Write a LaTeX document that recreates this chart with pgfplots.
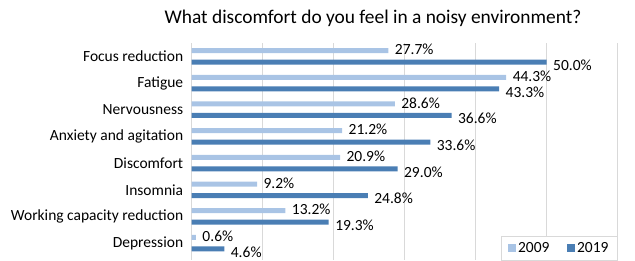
\documentclass[border=0pt]{standalone}
\usepackage{pgfplots}
\pgfplotsset{compat=1.18}
\usepackage{fontspec}
\setmainfont{Carlito}
\definecolor{c09}{RGB}{169,196,229}
\definecolor{c19}{RGB}{74,126,180}
\definecolor{gridc}{RGB}{217,217,217}
\begin{document}
\begin{tikzpicture}[x=1pt,y=1pt]
\path[use as bounding box] (-191.7pt,0pt) rectangle (443.3pt,260pt);
\begin{axis}[
  at={(0pt,0pt)}, anchor=south west,
  scale only axis, width=426pt, height=217pt,
  xmin=0, xmax=60, ymin=-0.63, ymax=7.5,
  xbar, bar width=5pt,
  axis line style={draw=none},
  xtick={0,10,...,60}, xticklabels={},
  xmajorgrids, grid style={gridc, line width=0.8pt},
  major tick length=0pt,
  ytick={0,...,7},
  yticklabels={Depression, Working capacity reduction, Insomnia, Discomfort, Anxiety and agitation, Nervousness, Fatigue, Focus reduction},
  yticklabel style={font=\fontsize{15.5}{18}\selectfont, xshift=-5pt},
  /pgf/number format/assume math mode=true,
  nodes near coords={\pgfmathprintnumber[fixed,fixed zerofill,precision=1]{\pgfplotspointmeta}\%},
  nodes near coords style={font=\fontsize{15.5}{17}\selectfont, anchor=west, xshift=3pt, inner ysep=0pt},
  legend style={at={(1,0)}, anchor=south east, draw=gridc, fill=white,
    font=\fontsize{15.5}{18}\selectfont, legend columns=2,
    inner xsep=7pt, inner ysep=4pt,
    /tikz/every even column/.append style={column sep=16pt}},
  legend image code/.code={\fill[#1] (0pt,-3.8pt) rectangle (7.6pt,3.8pt);},
]
\addplot[fill=c09, draw=none, bar shift=5.75pt, nodes near coords style={yshift=1pt}] coordinates {
  (27.7,7) (44.3,6) (28.6,5) (21.2,4) (20.9,3) (9.2,2) (13.2,1) (0.6,0)};
\addplot[fill=c19, draw=none, bar shift=-5.75pt, nodes near coords style={yshift=-3pt}] coordinates {
  (50.0,7) (43.3,6) (36.6,5) (33.6,4) (29.0,3) (24.8,2) (19.3,1) (4.6,0)};
\legend{2009,2019}
\end{axis}
\node[font=\fontsize{19.4}{22}\selectfont] at (181.3pt,242pt) {What discomfort do you feel in a noisy environment?};
\end{tikzpicture}
\end{document}
